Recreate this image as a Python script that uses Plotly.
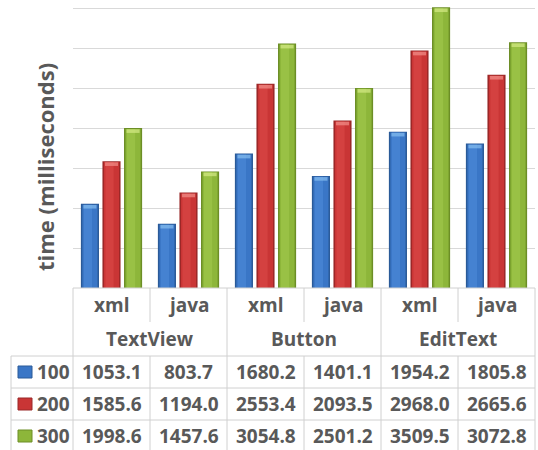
import plotly.graph_objects as go

# ---- data -------------------------------------------------------------
widgets = ["TextView", "Button", "EditText"]
impls = ["xml", "java"]
series_names = ["100", "200", "300"]
vals_100 = [1053.1, 803.7, 1680.2, 1401.1, 1954.2, 1805.8]
vals_200 = [1585.6, 1194.0, 2553.4, 2093.5, 2968.0, 2665.6]
vals_300 = [1998.6, 1457.6, 3054.8, 2501.2, 3509.5, 3072.8]
series_vals = [vals_100, vals_200, vals_300]

# ---- styling ------------------------------------------------------------
W, H = 538, 450
L, R, T, B = 73, 3, 0, 162
PW, PH = W - L - R, H - T - B
YMAX = 3600
TXT = "#595959"
GRID = "#d9d9d9"
FONT = "Open Sans"

palette = [
    # edge, body, highlight, cap
    ("#2a5a98", "#3a76c6", "#4d8ad8", "#86bdf0"),
    ("#9a2828", "#c93535", "#dc4a48", "#f2908a"),
    ("#6c8e26", "#8db63a", "#a2c84c", "#d4ea86"),
]

cats = [f"{w} {i}" for w in widgets for i in impls]

BAR_W = 0.235
STEP = 0.28

fig = go.Figure()
for k, (name, vals) in enumerate(zip(series_names, series_vals)):
    edge, body, hi, cap = palette[k]
    c = (k - 1) * STEP
    # outer edge
    fig.add_trace(go.Bar(x=cats, y=vals, name=name, width=BAR_W,
                         offset=c - BAR_W / 2, marker=dict(color=edge, line_width=0),
                         showlegend=False, hoverinfo="skip"))
    # body
    bw = BAR_W - 3.0 / 77
    fig.add_trace(go.Bar(x=cats, y=[v - 12 for v in vals], width=bw,
                         offset=c - bw / 2, marker=dict(color=body, line_width=0),
                         showlegend=False, hoverinfo="skip"))
    # soft highlight strip
    hw = BAR_W * 0.45
    fig.add_trace(go.Bar(x=cats, y=[v - 12 for v in vals], width=hw,
                         offset=c - BAR_W / 2 + 3.0 / 77,
                         marker=dict(color=hi, line_width=0, opacity=0.6),
                         showlegend=False, hoverinfo="skip"))
    # bevelled top
    cw = BAR_W - 5.0 / 77
    fig.add_trace(go.Bar(x=cats, y=[45] * len(vals), base=[v - 60 for v in vals], width=cw,
                         offset=c - cw / 2, marker=dict(color=cap, line_width=0, opacity=0.7),
                         showlegend=False, hoverinfo="skip"))


def px_x(p):
    return (p - L) / PW


def px_y(p):
    return (T + PH - p) / PH


shapes = []


def hline(y, x0, x1):
    shapes.append(dict(type="line", xref="paper", yref="paper", x0=px_x(x0), x1=px_x(x1),
                       y0=px_y(y), y1=px_y(y), line=dict(color="#d0d0d0", width=1), layer="above"))


def vline(x, y0, y1):
    shapes.append(dict(type="line", xref="paper", yref="paper", x0=px_x(x), x1=px_x(x),
                       y0=px_y(y0), y1=px_y(y1), line=dict(color="#d0d0d0", width=1), layer="above"))


COL = 77
X0 = L
rows_top, row_h = 356, 32
hline(288, X0, X0 + 6 * COL)
for y in (rows_top, rows_top + row_h, rows_top + 2 * row_h):
    hline(y, 11, X0 + 6 * COL)
vline(11, rows_top, 451)
for j in range(7):
    x = X0 + j * COL
    if j % 2 == 0:
        vline(x, 288, 451)
    else:
        vline(x, 288, 322)
        vline(x, rows_top, 451)

annotations = []
tfont = dict(family=FONT, size=19, color=TXT, weight="bold")

for j, cat in enumerate(cats):
    annotations.append(dict(x=cat, xref="x", y=px_y(305), yref="paper", text=impls[j % 2],
                            showarrow=False, font=tfont, xanchor="center", yanchor="middle"))
for g, w in enumerate(widgets):
    annotations.append(dict(x=px_x(X0 + (2 * g + 1) * COL), xref="paper", y=px_y(339), yref="paper",
                            text=w, showarrow=False, font=tfont, xanchor="center", yanchor="middle"))

for k, (name, vals) in enumerate(zip(series_names, series_vals)):
    yc = rows_top + row_h * k + row_h / 2
    for j, cat in enumerate(cats):
        annotations.append(dict(x=cat, xref="x", y=px_y(yc), yref="paper", text=f"{vals[j]:.1f}",
                                showarrow=False, font=tfont, xanchor="center", yanchor="middle"))
    annotations.append(dict(x=px_x(35), xref="paper", y=px_y(yc), yref="paper", text=name,
                            showarrow=False, font=tfont, xanchor="left", yanchor="middle"))
    edge, body, hi, cap = palette[k]
    shapes.append(dict(type="rect", xref="paper", yref="paper", x0=px_x(18), x1=px_x(32),
                       y0=px_y(yc - 6), y1=px_y(yc + 6), fillcolor=body,
                       line=dict(color=edge, width=1), layer="above"))

annotations.append(dict(x=px_x(45), xref="paper", y=px_y(167), yref="paper",
                        text="time (milliseconds)", textangle=-90, showarrow=False,
                        font=dict(family=FONT, size=22, color=TXT, weight="bold"),
                        xanchor="center", yanchor="middle"))

fig.update_layout(
    width=W, height=H,
    margin=dict(l=L, r=R, t=T, b=B),
    paper_bgcolor="white", plot_bgcolor="white",
    barmode="overlay",
    showlegend=False,
    xaxis=dict(type="category", categoryorder="array", categoryarray=cats,
               range=[-0.5, 5.5], showticklabels=False, showgrid=False,
               zeroline=False, showline=False, ticks=""),
    yaxis=dict(range=[0, YMAX], dtick=500, showticklabels=False, showgrid=True,
               gridcolor=GRID, gridwidth=1, zeroline=False, showline=False, ticks=""),
    shapes=shapes, annotations=annotations,
)

fig.write_html("out.html")
